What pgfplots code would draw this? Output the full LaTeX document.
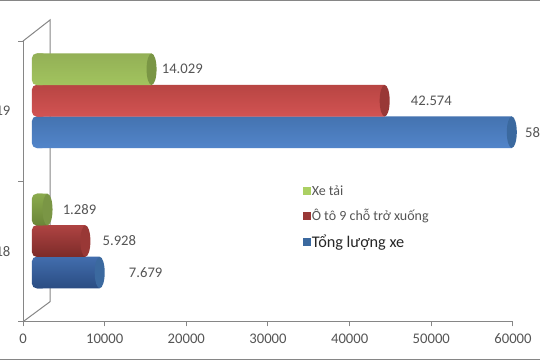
\documentclass[border=0pt]{standalone}
\usepackage{pgfplots}
\pgfplotsset{compat=1.18}
\usepackage{pgfplotstable}
\usepackage{fontspec}
\setmainfont{Carlito}
\definecolor{gT}{HTML}{93B056}\definecolor{gM}{HTML}{ABD063}\definecolor{gB}{HTML}{6B8538}\definecolor{gE}{HTML}{7A9645}
\definecolor{rT}{HTML}{B84543}\definecolor{rM}{HTML}{E25C5C}\definecolor{rB}{HTML}{7C2B29}\definecolor{rE}{HTML}{993836}
\definecolor{bT}{HTML}{4473B0}\definecolor{bM}{HTML}{5B90DA}\definecolor{bB}{HTML}{2A4C82}\definecolor{bE}{HTML}{3B699F}
\definecolor{axc}{HTML}{868686}\definecolor{txt}{HTML}{555555}
\pgfdeclareverticalshading{gs}{100bp}{color(0bp)=(gB);color(25bp)=(gB);color(38bp)=(gM!70!gB);color(48bp)=(gM);color(60bp)=(gM);color(75bp)=(gT);color(100bp)=(gT)}
\pgfdeclareverticalshading{rs}{100bp}{color(0bp)=(rB);color(25bp)=(rB);color(38bp)=(rM!70!rB);color(48bp)=(rM);color(60bp)=(rM);color(75bp)=(rT);color(100bp)=(rT)}
\pgfdeclareverticalshading{bs}{100bp}{color(0bp)=(bB);color(25bp)=(bB);color(38bp)=(bM!70!bB);color(48bp)=(bM);color(60bp)=(bM);color(75bp)=(bT);color(100bp)=(bT)}
\newcommand\cappath{\pgfpathellipse{\pgfpointorigin}{\pgfqpoint{3.75pt}{0pt}}{\pgfqpoint{0pt}{11.8pt}}}
\pgfdeclareplotmark{cR}{\cappath\pgfusepathqfill}
\pgfplotstableread{
x y lab dx
7679 1 7.679 24
58140 2 58.140 8
}\tblue
\pgfplotstableread{
x y lab dx
5928 1 5.928 12
42574 2 42.574 21
}\tred
\pgfplotstableread{
x y lab dx
1289 1 1.289 10
14029 2 14.029 5
}\tgreen
\newcommand\series[4]{% table, shift, prefix, end colour
  % rounded left end of the cylinder (a short piece that lies under the bar)
  \addplot[xbar,bar width=23.8pt,bar shift=0pt,yshift=#2,xshift=7.5pt,draw=none,shade,shading=#3s,rounded corners=3.5pt] table[x expr=-1840,y=y] {#1};
  \addplot[xbar,bar width=23.8pt,bar shift=0pt,yshift=#2,draw=none,shade,shading=#3s] table[x=x,y=y] {#1};
  \addplot[only marks,mark=cR,mark options={fill=#4,draw=none},color=#4,yshift=#2,
    visualization depends on={\thisrow{dx} \as \dxv},
    nodes near coords,point meta=explicit symbolic,
    every node near coord/.append style={anchor=west,inner sep=0pt,font=\fontsize{11pt}{12pt}\selectfont,text=txt,xshift=\dxv*0.75pt+3.75pt}]
    table[x=x,y=y,meta=lab] {#1};
}
\begin{document}
\begin{tikzpicture}
\useasboundingbox (0,0) rectangle (405pt,270pt);
\clip (0,0) rectangle (405pt,270pt);
\fill[white] (0,0) rectangle (405pt,270pt);
\fill[axc] (0,269pt) rectangle (405pt,270pt);
\fill[axc] (0,0) rectangle (405pt,0.8pt);
% back wall
\draw[axc,line width=0.75pt] (17.25pt,28.7pt) -- (37.5pt,43.7pt) -- (37.5pt,255pt) -- (17.25pt,239.2pt);
\begin{axis}[
  name=front, at={(17.25pt,28.7pt)}, anchor=south west,
  scale only axis, width=367.5pt, height=210.5pt,
  xmin=0,xmax=60000,ymin=0.5,ymax=2.5,
  axis lines=left, axis line style={-,draw=axc,line width=0.75pt},
  xtick={0,10000,...,60000}, ytick={1,2}, yticklabels={2018,2019},
  minor ytick={0.5,1.5,2.5},
  scaled x ticks=false,
  tick align=outside, major tick length=3.4pt, minor tick length=3.7pt,
  x tick style={draw=axc,line width=0.75pt}, y tick style={draw=none},
  minor y tick style={draw=axc,line width=0.75pt},
  /pgf/number format/assume math mode=true,
  /pgf/number format/1000 sep={},
  tick label style={font=\fontsize{11pt}{12pt}\selectfont,text=txt},
  xticklabel style={yshift=-2pt},
  yticklabel style={xshift=-2.5pt},
  clip=false,
  legend style={at={(210pt,53.3pt)},anchor=south west,draw=none,fill=none,
     inner sep=0pt,row sep=7pt,legend cell align=left,
     nodes={inner sep=1pt,xshift=3pt}},
]
\addlegendimage{legend image code/.code={\fill[gM] (0pt,-2.6pt) rectangle (5pt,2.6pt);}}
\addlegendentry{\fontsize{10.5pt}{12pt}\selectfont\textcolor{txt}{Xe tải}}
\addlegendimage{legend image code/.code={\fill[rE] (0pt,-2.6pt) rectangle (5pt,2.6pt);}}
\addlegendentry{\fontsize{10.5pt}{12pt}\selectfont\textcolor{txt}{Ô tô 9 chỗ trở xuống}}
\addlegendimage{legend image code/.code={\fill[bE] (0pt,-2.6pt) rectangle (5pt,2.6pt);}}
\addlegendentry{\fontsize{12.2pt}{13pt}\selectfont\textcolor{black!85}{Tổng lượng xe}}
\end{axis}
\begin{axis}[
  at={(27.75pt,36.6pt)}, anchor=south west,
  scale only axis, width=367.5pt, height=210.5pt,
  xmin=0,xmax=60000,ymin=0.5,ymax=2.5,
  hide axis, clip=false,
]
\series{\tblue}{-23.6pt}{b}{bE}
\series{\tred}{0pt}{r}{rE}
\series{\tgreen}{23.6pt}{g}{gE}
\end{axis}
\end{tikzpicture}
\end{document}
